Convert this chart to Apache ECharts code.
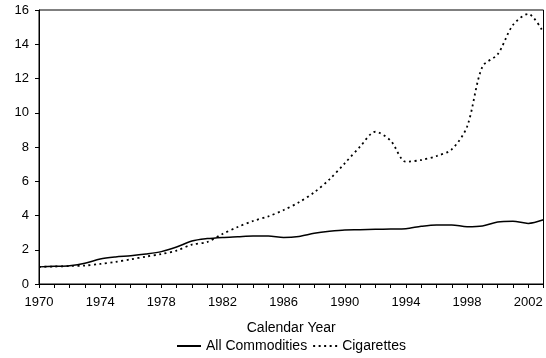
<!DOCTYPE html>
<html>
<head>
<meta charset="utf-8">
<script src="https://cdn.jsdelivr.net/npm/echarts@6/dist/echarts.min.js"></script>
<style>html,body{margin:0;padding:0;background:#fff}#c{width:546px;height:358px}</style>
</head>
<body>
<div id="c"></div>
<script>
var years = [];
for (var y = 1970; y <= 2003; y++) years.push(String(y));
var allCommodities = [1.00, 1.03, 1.07, 1.21, 1.46, 1.58, 1.65, 1.75, 1.89, 2.16, 2.51, 2.65, 2.72, 2.76, 2.80, 2.80, 2.72, 2.78, 2.96, 3.08, 3.16, 3.17, 3.19, 3.21, 3.23, 3.37, 3.45, 3.45, 3.35, 3.39, 3.62, 3.66, 3.54, 3.75];
var cigarettes = [1.00, 1.02, 1.05, 1.08, 1.17, 1.29, 1.44, 1.60, 1.75, 1.95, 2.30, 2.45, 2.92, 3.33, 3.68, 3.95, 4.32, 4.77, 5.35, 6.11, 7.05, 8.02, 8.89, 8.37, 7.14, 7.24, 7.47, 7.86, 9.19, 12.69, 13.41, 15.12, 15.77, 14.68];
var seriesNames = ['All Commodities', 'Cigarettes'];

var chart = echarts.init(document.getElementById('c'), null, {renderer: 'canvas'});
var font = 'Liberation Sans, Arial, sans-serif';
chart.setOption({
  animation: false,
  grid: {left: 39, right: 2.5, top: 10, bottom: 74, show: true, borderColor: '#000', borderWidth: 1, backgroundColor: 'transparent'},
  legend: {
    bottom: 0, left: 171, itemWidth: 24, itemHeight: 12, itemGap: 5,
    data: seriesNames,
    itemStyle: {opacity: 0},
    textStyle: {fontFamily: font, fontSize: 14, color: '#000'}
  },
  xAxis: {
    type: 'category', data: years, boundaryGap: false,
    name: 'Calendar Year', nameLocation: 'middle', nameGap: 44,
    nameTextStyle: {fontFamily: font, fontSize: 14, color: '#000', verticalAlign: 'middle'},
    axisLine: {lineStyle: {color: '#000', width: 1}},
    axisTick: {interval: 0, length: 4, lineStyle: {color: '#000'}},
    axisLabel: {interval: 3, fontFamily: font, fontSize: 13, color: '#000', margin: 12},
    splitLine: {show: false}
  },
  yAxis: {
    type: 'value', min: 0, max: 16, interval: 2,
    axisLine: {show: true, lineStyle: {color: '#000', width: 1}},
    axisTick: {show: true, length: 4, lineStyle: {color: '#000'}},
    axisLabel: {fontFamily: font, fontSize: 13, color: '#000', margin: 10},
    splitLine: {show: false}
  },
  series: [
    {name: seriesNames[0], type: 'line', data: allCommodities, symbol: 'none', smooth: 0.3,
     lineStyle: {color: '#000', width: 1.5, type: 'solid'}, itemStyle: {color: '#000'}},
    {name: seriesNames[1], type: 'line', data: cigarettes, symbol: 'none', smooth: 0.3,
     lineStyle: {color: '#000', width: 1.8, type: [2, 3.5]}, itemStyle: {color: '#000'}}
  ]
});
</script>
</body>
</html>
